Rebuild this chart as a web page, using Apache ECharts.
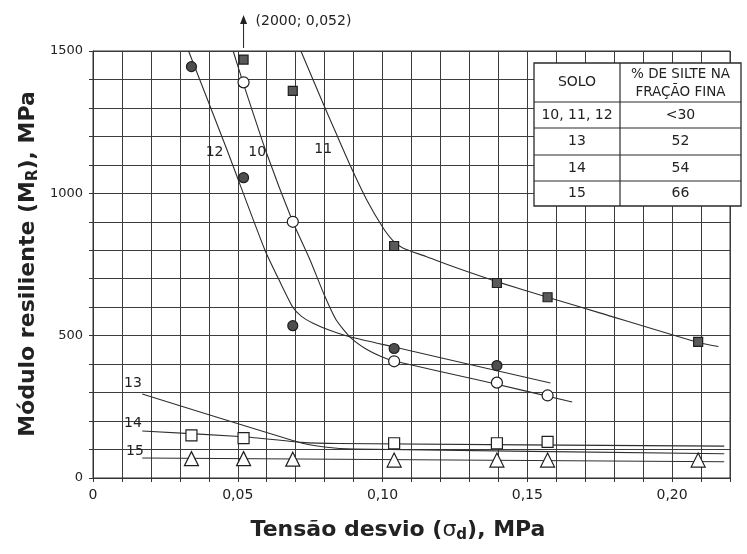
<!DOCTYPE html>
<html><head><meta charset="utf-8">
<script src="https://cdn.jsdelivr.net/npm/echarts@6/dist/echarts.min.js"></script>
<style>html,body{margin:0;padding:0;background:#fff}#c{width:747px;height:554px}</style>
</head><body><div id="c"></div>
<script>
// ---- tick labels ----
const xTickLabels = ['0', '0,05', '0,10', '0,15', '0,20'];
const yTickLabels = ['0', '500', '1000', '1500'];

// ---- measured points [tensão desvio (MPa), módulo resiliente (MPa)] ----
const solo10Pts = [[0.052, 1390], [0.069, 900], [0.104, 410], [0.1395, 335], [0.157, 290]];
const solo11Pts = [[0.052, 1470], [0.069, 1360], [0.104, 815], [0.1395, 685], [0.157, 635], [0.209, 478]];
const solo12Pts = [[0.034, 1445], [0.052, 1055], [0.069, 535], [0.104, 455], [0.1395, 395]];
const solo14Pts = [[0.034, 150], [0.052, 140], [0.104, 122], [0.1395, 122], [0.157, 127]];
const solo15Pts = [[0.034, 68], [0.052, 68], [0.069, 66], [0.104, 63], [0.1395, 63], [0.157, 63], [0.209, 63]];

// ---- fitted curves ----
const curve10 = [[0.0484, 1500], [0.0518, 1390], [0.060, 1140], [0.069, 900], [0.075, 765], [0.080, 640], [0.084, 555], [0.0888, 495], [0.094, 455], [0.0995, 427], [0.104, 411], [0.135, 340], [0.1655, 267]];
const curve11 = [[0.0718, 1500], [0.079, 1327], [0.084, 1210], [0.0888, 1099], [0.0946, 976], [0.100, 882], [0.1035, 835], [0.107, 808], [0.115, 778], [0.125, 740], [0.140, 688], [0.157, 635], [0.175, 580], [0.209, 476], [0.216, 462]];
const curve12 = [[0.033, 1500], [0.046, 1160], [0.0594, 800], [0.065, 680], [0.069, 600], [0.072, 568], [0.076, 544], [0.082, 518], [0.089, 495], [0.104, 460], [0.158, 334]];
const curve13 = [[0.017, 295], [0.072, 123], [0.080, 109], [0.090, 102], [0.218, 85]];
const curve14 = [[0.017, 165], [0.052, 145], [0.072, 125], [0.085, 121], [0.218, 112]];
const curve15 = [[0.017, 70], [0.218, 57]];

// ---- curve labels [x, y, text] ----
const curveLabels = [[0.042, 1145, '12'], [0.0567, 1145, '10'], [0.0795, 1156, '11'], [0.0138, 334, '13'], [0.0138, 193, '14'], [0.0145, 95, '15']];

// ---- annotation ----
const offScale = { x: 0.052, text: '(2000; 0,052)' };

// ---- table ----
const tableHeader = ['SOLO', '% DE SILTE NA', 'FRAÇÃO FINA'];
const soloNames = ['10, 11, 12', '13', '14', '15'];
const siltePct = ['<30', '52', '54', '66'];

(function () {
const FONT = 'DejaVu Sans';
const chart = echarts.init(document.getElementById('c'));

function curve(name, data) {
  return { name, type: 'line', data, smooth: 0.2, symbol: 'none', silent: true,
    lineStyle: { color: '#2e2e2e', width: 1.1 }, z: 3 };
}
function pts(name, data, symbol, size, fill) {
  return { name, type: 'scatter', data, symbol, symbolSize: size, silent: true,
    itemStyle: { color: fill, borderColor: '#1e1e1e', borderWidth: 1.2, opacity: 1 }, z: 5 };
}
const gridLine = { color: '#3c3c3c', width: 1 };

chart.setOption({
  animation: false,
  backgroundColor: '#fff',
  grid: { left: 93, right: 17, top: 51, bottom: 76, show: true, borderColor: '#333', borderWidth: 1 },
  xAxis: {
    type: 'value', min: 0, max: 0.22, interval: 0.01,
    axisLine: { show: true, lineStyle: { color: '#333', width: 1 } },
    axisTick: { show: true, length: 4, lineStyle: { color: '#333' } },
    splitLine: { show: true, lineStyle: gridLine },
    axisLabel: {
      margin: 10, color: '#222', fontSize: 14, fontFamily: FONT, hideOverlap: false,
      formatter: v => { const k = Math.round(v * 100); return k % 5 === 0 ? (xTickLabels[k / 5] || '') : ''; }
    }
  },
  yAxis: {
    type: 'value', min: 0, max: 1500, interval: 100,
    axisLine: { show: true, lineStyle: { color: '#333', width: 1 } },
    axisTick: { show: true, length: 4, lineStyle: { color: '#333' } },
    splitLine: { show: true, lineStyle: gridLine },
    axisLabel: {
      margin: 10, color: '#222', fontSize: 13, fontFamily: FONT,
      formatter: v => { const k = Math.round(v); return k % 500 === 0 ? (yTickLabels[k / 500] || '') : ''; }
    }
  },
  series: [
    curve('c10', curve10), curve('c11', curve11), curve('c12', curve12),
    curve('c13', curve13), curve('c14', curve14), curve('c15', curve15),
    pts('10', solo10Pts, 'circle', 11, '#ffffff'),
    pts('11', solo11Pts, 'rect', 9, '#5a5a5a'),
    pts('12', solo12Pts, 'circle', 10, '#4e4e4e'),
    pts('14', solo14Pts, 'rect', 11, '#ffffff'),
    pts('15', solo15Pts, 'triangle', 14, '#ffffff')
  ]
});

const P = (x, y) => chart.convertToPixel({ gridIndex: 0 }, [x, y]);
const g = [];
curveLabels.forEach(([x, y, t]) => {
  const p = P(x, y);
  g.push({ type: 'text', x: p[0], y: p[1], z: 10,
    style: { text: t, font: '14px ' + FONT, fill: '#222', align: 'center', verticalAlign: 'middle' } });
});
const tp = P(offScale.x, 1500);
g.push({ type: 'line', z: 10, shape: { x1: tp[0], y1: tp[1] - 3, x2: tp[0], y2: 24 }, style: { stroke: '#222', lineWidth: 1 } });
g.push({ type: 'polygon', z: 10, shape: { points: [[tp[0], 15], [tp[0] - 3.5, 24], [tp[0] + 3.5, 24]] }, style: { fill: '#222' } });
g.push({ type: 'text', z: 10, x: tp[0] + 12, y: 21, style: { text: offScale.text, font: '14px ' + FONT, fill: '#222', align: 'left', verticalAlign: 'middle' } });

const tL = 534, tR = 741, tT = 63, c1 = 620;
const rows = [tT, 102, 128, 155, 181, 206];
g.push({ type: 'rect', z: 20, shape: { x: tL, y: tT, width: tR - tL, height: rows[5] - tT }, style: { fill: '#fff', stroke: '#2a2a2a', lineWidth: 1.3 } });
for (let i = 1; i < 5; i++) g.push({ type: 'line', z: 21, shape: { x1: tL, y1: rows[i], x2: tR, y2: rows[i] }, style: { stroke: '#2a2a2a', lineWidth: 1.2 } });
g.push({ type: 'line', z: 21, shape: { x1: c1, y1: tT, x2: c1, y2: rows[5] }, style: { stroke: '#2a2a2a', lineWidth: 1.2 } });
const cx1 = (tL + c1) / 2, cx2 = (c1 + tR) / 2;
const tStyle = (t, x, y, s) => ({ type: 'text', z: 22, x, y, style: { text: t, font: (s || 14) + 'px ' + FONT, fill: '#222', align: 'center', verticalAlign: 'middle' } });
g.push(tStyle(tableHeader[0], cx1, (tT + rows[1]) / 2, 14));
g.push(tStyle(tableHeader[1], cx2, 74, 13.5));
g.push(tStyle(tableHeader[2], cx2, 92, 13.5));
soloNames.forEach((s, i) => {
  const yc = (rows[i + 1] + rows[i + 2]) / 2;
  g.push(tStyle(s, cx1, yc));
  g.push(tStyle(siltePct[i], cx2, yc));
});

g.push({ type: 'text', z: 10, x: 398, y: 530,
  style: { text: '{a|Tensão desvio (}{s|σ}{d|d}{a|), MPa}', align: 'center', verticalAlign: 'middle',
    rich: { a: { font: 'bold 22px ' + FONT, fill: '#222' }, s: { font: '22px ' + FONT, fill: '#222' }, d: { font: 'bold 15px ' + FONT, fill: '#222', padding: [10, 0, 0, 0] } } } });
g.push({ type: 'text', z: 10, x: 28, y: 264, rotation: Math.PI / 2,
  style: { text: '{a|Módulo resiliente (M}{d|R}{a|), MPa}', align: 'center', verticalAlign: 'middle',
    rich: { a: { font: 'bold 22px ' + FONT, fill: '#222' }, d: { font: 'bold 15px ' + FONT, fill: '#222', padding: [10, 0, 0, 0] } } } });

chart.setOption({ graphic: g });
})();
</script></body></html>
